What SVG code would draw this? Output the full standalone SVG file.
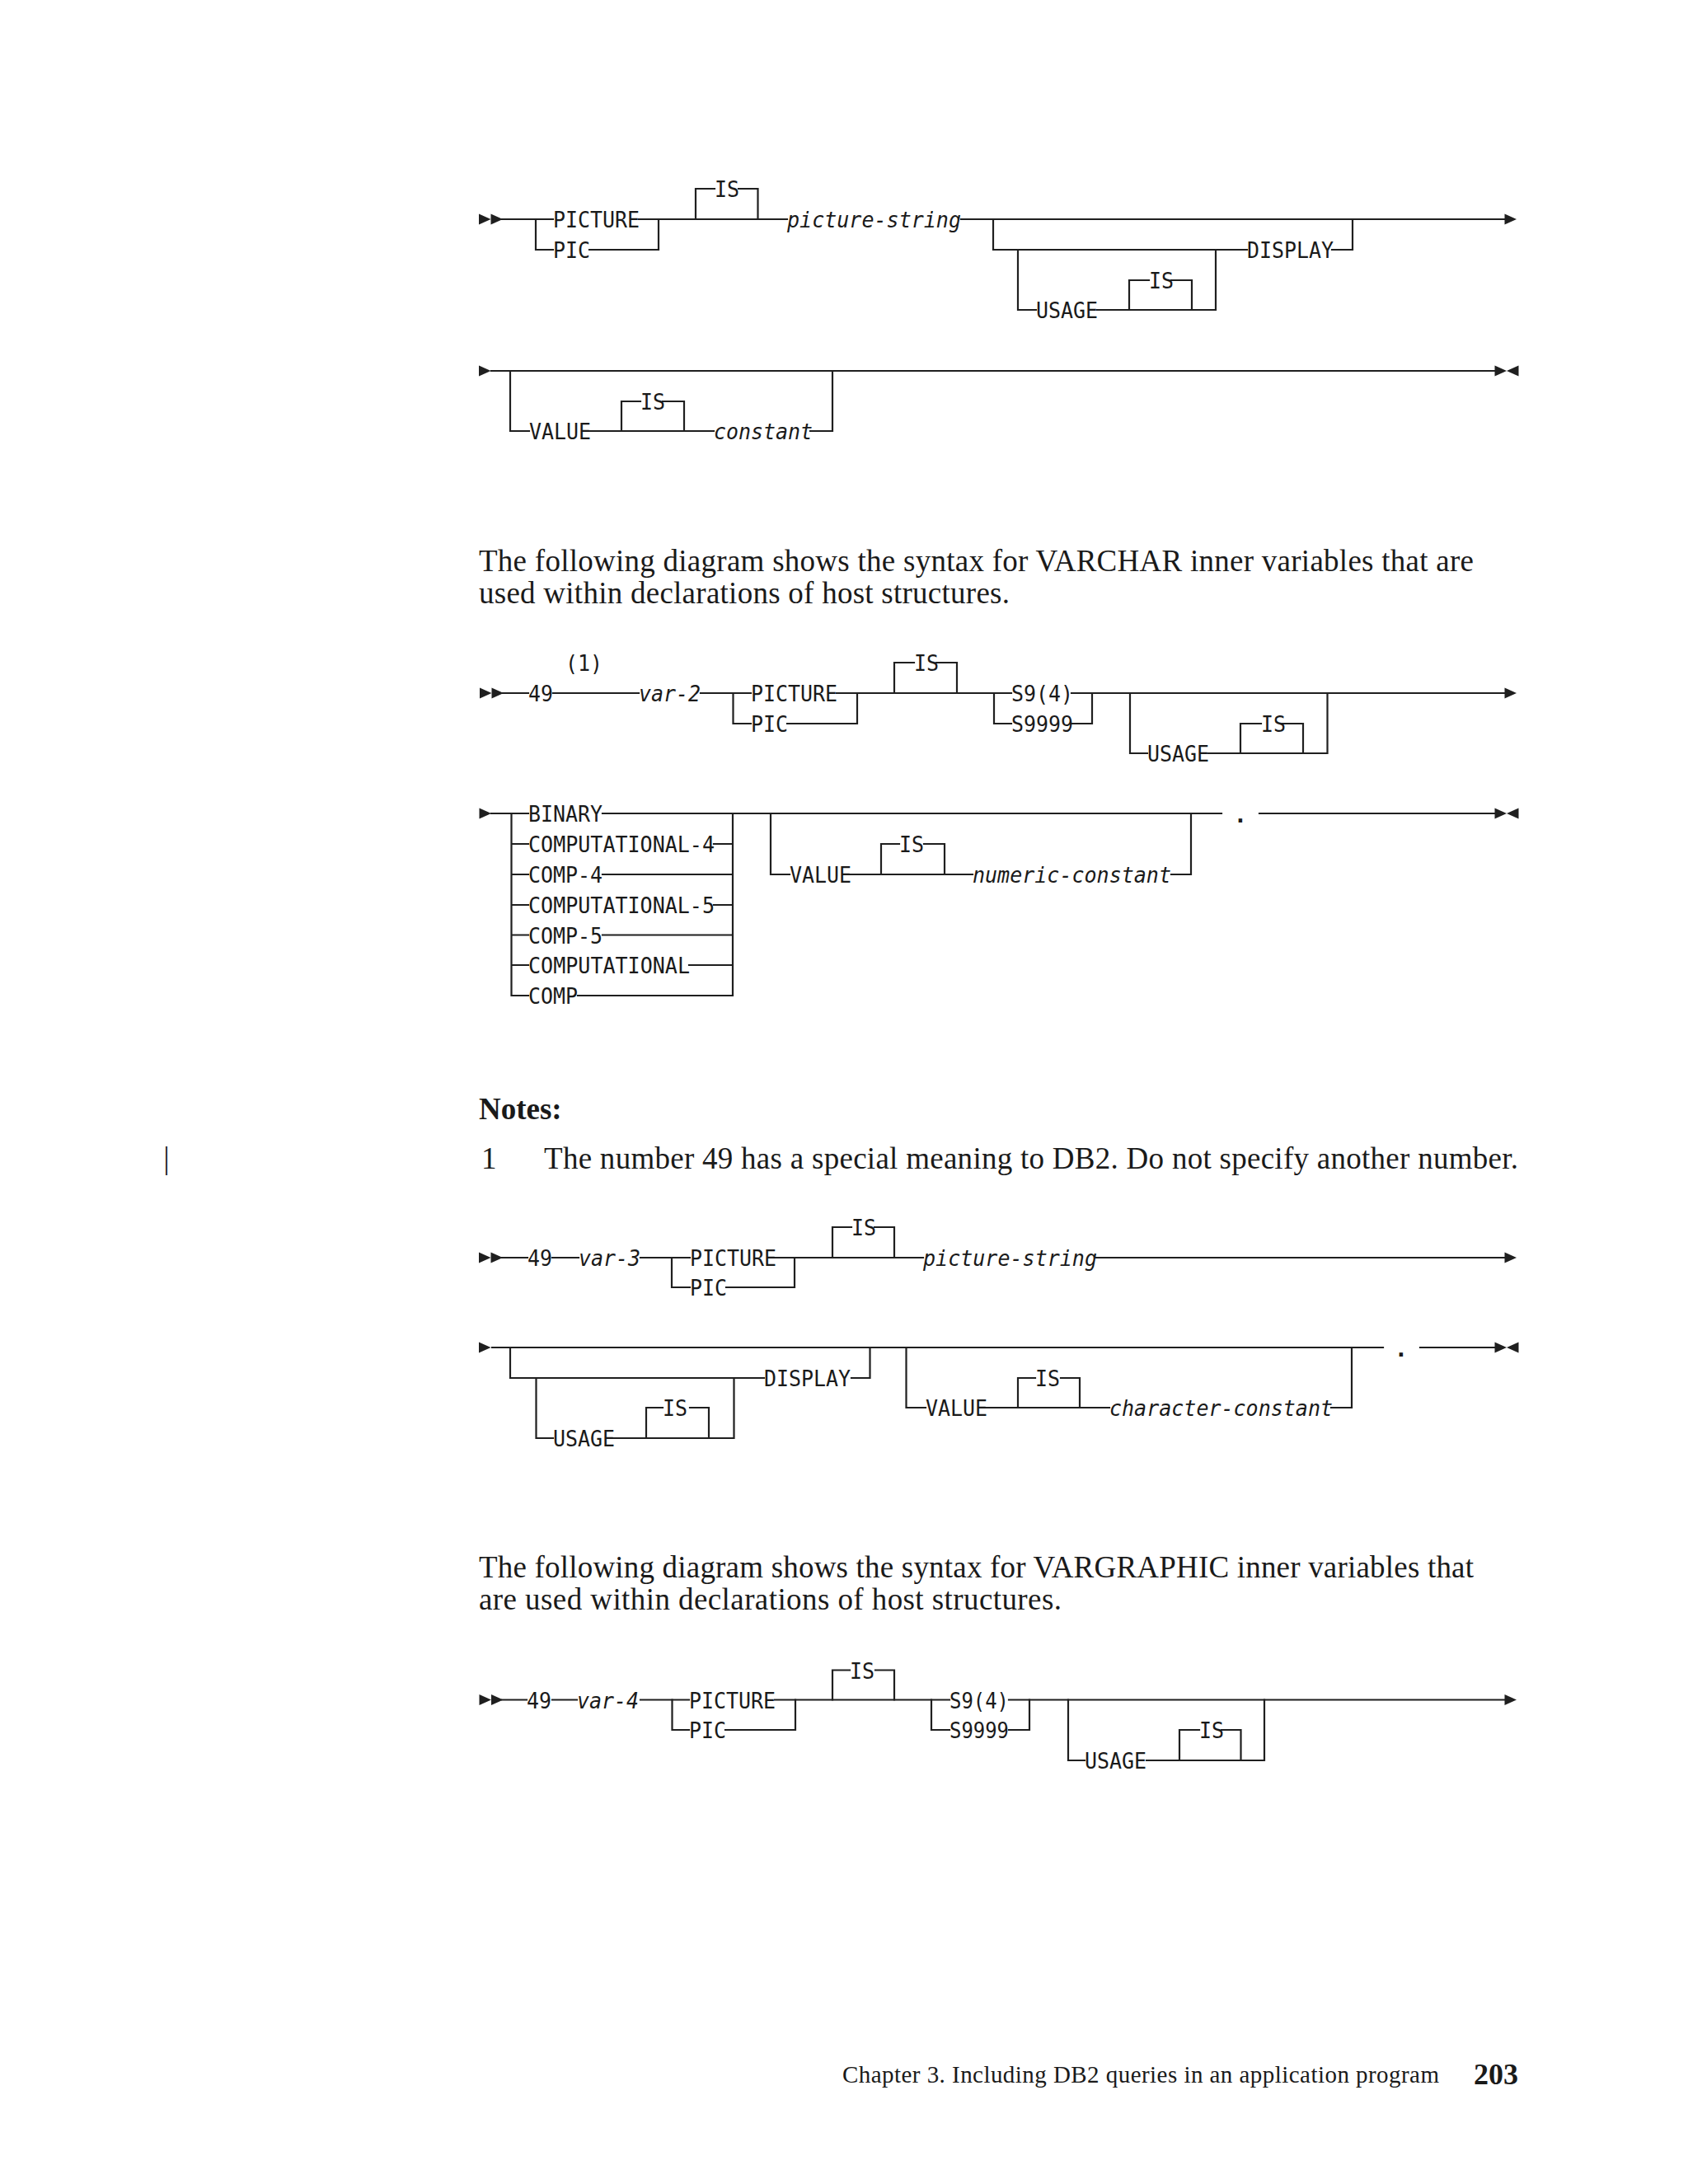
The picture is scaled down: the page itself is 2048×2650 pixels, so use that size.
<svg xmlns="http://www.w3.org/2000/svg" xmlns:xlink="http://www.w3.org/1999/xlink" width="2048" height="2650" viewBox="0 0 2048 2650">
<defs>
<style>
.ln{fill:none;stroke:#1f1f1f;stroke-width:2.2;stroke-linecap:square}
.t{font-family:"DejaVu Sans Mono","Liberation Mono",monospace;font-size:27px;fill:#1a1a1a}
.i{font-style:italic}
.p{font-family:"Liberation Serif","Times New Roman",serif;font-size:37px;fill:#1a1a1a}
.b{font-weight:bold}
.ar{fill:#1f1f1f}
</style>
<path id="tri" d="M0,-6.5 L14.5,0 L0,6.5 Z"/>
<path id="tril" d="M0,0 L14.5,-6.5 L14.5,6.5 Z"/>
</defs>
<rect width="2048" height="2650" fill="#ffffff"/>

<!-- ===== Diagram 1 ===== -->
<g id="d1">
<g id="d1-connectors" class="ln">
<path d="M609,266 H671 M775,266 H955 M1166,266 H1826"/>
<path d="M650,266 V303 H671 M715,303 H799 V266"/>
<path d="M844,266 V229 H867 M896,229 H919.5 V266"/>
<path d="M1205,266 V303 H1513 M1616,303 H1641 V266"/>
<path d="M1235,303 V376 H1257 M1331,376 H1475 V303"/>
<path d="M1370,376 V340 H1394 M1421,340 H1446 V376"/>
<path d="M596,450 H1814"/>
<path d="M619,450 V523 H642 M715,523 H866 M983,523 H1010 V450"/>
<path d="M754,523 V487 H777 M804,487 H830 V523"/>
</g>
<g id="d1-arrows" class="ar">
<use xlink:href="#tri" x="581" y="266"/><use xlink:href="#tri" x="595.5" y="266"/>
<use xlink:href="#tri" x="1825.5" y="266"/>
<use xlink:href="#tri" x="581" y="450"/>
<use xlink:href="#tri" x="1813.5" y="450"/><use xlink:href="#tril" x="1828" y="450"/>
</g>
<g id="d1-picture" class="t"><text x="671" y="276" textLength="105" lengthAdjust="spacingAndGlyphs">PICTURE</text></g>
<g id="d1-pic" class="t"><text x="671" y="313" textLength="45" lengthAdjust="spacingAndGlyphs">PIC</text></g>
<g id="d1-is1" class="t"><text x="867" y="239" textLength="30" lengthAdjust="spacingAndGlyphs">IS</text></g>
<g id="d1-picstring" class="t i"><text x="955" y="276" textLength="211" lengthAdjust="spacingAndGlyphs">picture-string</text></g>
<g id="d1-display" class="t"><text x="1513" y="313" textLength="105" lengthAdjust="spacingAndGlyphs">DISPLAY</text></g>
<g id="d1-usage" class="t"><text x="1257" y="386" textLength="75" lengthAdjust="spacingAndGlyphs">USAGE</text></g>
<g id="d1-is2" class="t"><text x="1394" y="350" textLength="30" lengthAdjust="spacingAndGlyphs">IS</text></g>
<g id="d1-value" class="t"><text x="642" y="533" textLength="75" lengthAdjust="spacingAndGlyphs">VALUE</text></g>
<g id="d1-is3" class="t"><text x="777" y="497" textLength="30" lengthAdjust="spacingAndGlyphs">IS</text></g>
<g id="d1-constant" class="t i"><text x="866" y="533" textLength="120" lengthAdjust="spacingAndGlyphs">constant</text></g>
</g>

<g id="para1" class="p">
<text x="581" y="693" textLength="1207" lengthAdjust="spacing">The following diagram shows the syntax for VARCHAR inner variables that are</text>
<text x="581" y="732" textLength="644" lengthAdjust="spacing">used within declarations of host structures.</text>
</g>

<!-- ===== Diagram 2 ===== -->
<g id="d2">
<g id="d2-connectors" class="ln">
<path d="M610,841 H641 M671,841 H775 M850,841 H911 M1015,841 H1227 M1300,841 H1826"/>
<path d="M889.5,841 V878 H911 M955,878 H1040 V841"/>
<path d="M1085,841 V804 H1109 M1136,804 H1161 V841"/>
<path d="M1206,841 V878 H1227 M1300,878 H1325 V841"/>
<path d="M1371,841 V914 H1392 M1465.5,914 H1610.5 V841"/>
<path d="M1505,914 V878 H1530 M1556,878 H1581 V914"/>
<path d="M596,987 H641 M731,987 H1482 M1528,987 H1814"/>
<path d="M620.5,987 V1208 H641 M620.5,1024 H641 M620.5,1061 H641 M620.5,1098 H641 M620.5,1134.5 H641 M620.5,1171 H641"/>
<path d="M866,1024 H889 M731,1061 H889 M866,1098 H889 M731,1134.5 H889 M836,1171 H889 M701,1208 H889 V987"/>
<path d="M935,987 V1061 H958 M1029,1061 H1180 M1421,1061 H1445 V987"/>
<path d="M1069,1061 V1024 H1091 M1121,1024 H1146 V1061"/>
</g>
<g id="d2-arrows" class="ar">
<use xlink:href="#tri" x="582" y="841"/><use xlink:href="#tri" x="596.5" y="841"/>
<use xlink:href="#tri" x="1825.5" y="841"/>
<use xlink:href="#tri" x="581.5" y="987"/>
<use xlink:href="#tri" x="1813.5" y="987"/><use xlink:href="#tril" x="1828" y="987"/>
</g>
<g id="d2-49" class="t"><text x="641" y="851" textLength="30" lengthAdjust="spacingAndGlyphs">49</text></g>
<g id="d2-note1" class="t"><text x="686" y="814" textLength="45" lengthAdjust="spacingAndGlyphs">(1)</text></g>
<g id="d2-var2" class="t i"><text x="775" y="851" textLength="75" lengthAdjust="spacingAndGlyphs">var-2</text></g>
<g id="d2-picture" class="t"><text x="911" y="851" textLength="105" lengthAdjust="spacingAndGlyphs">PICTURE</text></g>
<g id="d2-pic" class="t"><text x="911" y="888" textLength="45" lengthAdjust="spacingAndGlyphs">PIC</text></g>
<g id="d2-is1" class="t"><text x="1109" y="814" textLength="30" lengthAdjust="spacingAndGlyphs">IS</text></g>
<g id="d2-s94" class="t"><text x="1227" y="851" textLength="75" lengthAdjust="spacingAndGlyphs">S9(4)</text></g>
<g id="d2-s9999" class="t"><text x="1227" y="888" textLength="75" lengthAdjust="spacingAndGlyphs">S9999</text></g>
<g id="d2-usage" class="t"><text x="1392" y="924" textLength="75" lengthAdjust="spacingAndGlyphs">USAGE</text></g>
<g id="d2-is2" class="t"><text x="1530" y="888" textLength="30" lengthAdjust="spacingAndGlyphs">IS</text></g>
<g id="d2-binary" class="t"><text x="641" y="997" textLength="90" lengthAdjust="spacingAndGlyphs">BINARY</text></g>
<g id="d2-comp4l" class="t"><text x="641" y="1034" textLength="226" lengthAdjust="spacingAndGlyphs">COMPUTATIONAL-4</text></g>
<g id="d2-comp4" class="t"><text x="641" y="1071" textLength="90" lengthAdjust="spacingAndGlyphs">COMP-4</text></g>
<g id="d2-comp5l" class="t"><text x="641" y="1108" textLength="226" lengthAdjust="spacingAndGlyphs">COMPUTATIONAL-5</text></g>
<g id="d2-comp5" class="t"><text x="641" y="1144.5" textLength="90" lengthAdjust="spacingAndGlyphs">COMP-5</text></g>
<g id="d2-compl" class="t"><text x="641" y="1181" textLength="196" lengthAdjust="spacingAndGlyphs">COMPUTATIONAL</text></g>
<g id="d2-comp" class="t"><text x="641" y="1218" textLength="60" lengthAdjust="spacingAndGlyphs">COMP</text></g>
<g id="d2-value" class="t"><text x="958" y="1071" textLength="75" lengthAdjust="spacingAndGlyphs">VALUE</text></g>
<g id="d2-is3" class="t"><text x="1091" y="1034" textLength="30" lengthAdjust="spacingAndGlyphs">IS</text></g>
<g id="d2-numconst" class="t i"><text x="1180" y="1071" textLength="241" lengthAdjust="spacingAndGlyphs">numeric-constant</text></g>
<g id="d2-period" class="t b"><text x="1505" y="998" text-anchor="middle">.</text></g>
</g>

<g id="notes">
<text class="p b" x="581" y="1358">Notes:</text>
<text class="p" x="202" y="1418" text-anchor="middle">|</text>
<text class="p" x="584" y="1418">1</text>
<text class="p" x="660" y="1418" textLength="1182" lengthAdjust="spacing">The number 49 has a special meaning to DB2. Do not specify another number.</text>
</g>

<!-- ===== Diagram 3 ===== -->
<g id="d3">
<g id="d3-connectors" class="ln">
<path d="M609,1526 H640 M670,1526 H702 M777,1526 H837 M940,1526 H1120 M1330,1526 H1826"/>
<path d="M815,1526 V1562 H837 M881,1562 H964 V1526"/>
<path d="M1010,1526 V1489 H1033 M1061,1489 H1085 V1526"/>
<path d="M597,1635 H1678 M1723,1635 H1814"/>
<path d="M619,1635 V1672 H927 M1033,1672 H1055.5 V1635"/>
<path d="M650.5,1672 V1745 H671 M744,1745 H890.5 V1672"/>
<path d="M784,1745 V1708 H804 M837,1708 H860 V1745"/>
<path d="M1099.5,1635 V1708 H1123 M1194,1708 H1346 M1615,1708 H1640 V1635"/>
<path d="M1235,1708 V1672 H1256 M1287,1672 H1310 V1708"/>
</g>
<g id="d3-arrows" class="ar">
<use xlink:href="#tri" x="581" y="1526"/><use xlink:href="#tri" x="595.5" y="1526"/>
<use xlink:href="#tri" x="1825.5" y="1526"/>
<use xlink:href="#tri" x="581" y="1635"/>
<use xlink:href="#tri" x="1813.5" y="1635"/><use xlink:href="#tril" x="1828" y="1635"/>
</g>
<g id="d3-49" class="t"><text x="640" y="1536" textLength="30" lengthAdjust="spacingAndGlyphs">49</text></g>
<g id="d3-var3" class="t i"><text x="702" y="1536" textLength="75" lengthAdjust="spacingAndGlyphs">var-3</text></g>
<g id="d3-picture" class="t"><text x="837" y="1536" textLength="105" lengthAdjust="spacingAndGlyphs">PICTURE</text></g>
<g id="d3-pic" class="t"><text x="837" y="1572" textLength="45" lengthAdjust="spacingAndGlyphs">PIC</text></g>
<g id="d3-is1" class="t"><text x="1033" y="1499" textLength="30" lengthAdjust="spacingAndGlyphs">IS</text></g>
<g id="d3-picstring" class="t i"><text x="1120" y="1536" textLength="211" lengthAdjust="spacingAndGlyphs">picture-string</text></g>
<g id="d3-display" class="t"><text x="927" y="1682" textLength="105" lengthAdjust="spacingAndGlyphs">DISPLAY</text></g>
<g id="d3-usage" class="t"><text x="671" y="1755" textLength="75" lengthAdjust="spacingAndGlyphs">USAGE</text></g>
<g id="d3-is2" class="t"><text x="804" y="1718" textLength="30" lengthAdjust="spacingAndGlyphs">IS</text></g>
<g id="d3-value" class="t"><text x="1123" y="1718" textLength="75" lengthAdjust="spacingAndGlyphs">VALUE</text></g>
<g id="d3-is3" class="t"><text x="1256" y="1682" textLength="30" lengthAdjust="spacingAndGlyphs">IS</text></g>
<g id="d3-charconst" class="t i"><text x="1346" y="1718" textLength="271" lengthAdjust="spacingAndGlyphs">character-constant</text></g>
<g id="d3-period" class="t b"><text x="1700" y="1646" text-anchor="middle">.</text></g>
</g>

<g id="para2" class="p">
<text x="581" y="1914" textLength="1207" lengthAdjust="spacing">The following diagram shows the syntax for VARGRAPHIC inner variables that</text>
<text x="581" y="1953" textLength="707" lengthAdjust="spacing">are used within declarations of host structures.</text>
</g>

<!-- ===== Diagram 4 ===== -->
<g id="d4">
<g id="d4-connectors" class="ln">
<path d="M609,2062.5 H639 M670,2062.5 H700 M777,2062.5 H836 M940,2062.5 H1152 M1224,2062.5 H1826"/>
<path d="M815.5,2062.5 V2099 H836 M880,2099 H965 V2062.5"/>
<path d="M1010,2062.5 V2026.5 H1031 M1062,2026.5 H1085 V2062.5"/>
<path d="M1130,2062.5 V2099 H1152 M1224,2099 H1249 V2062.5"/>
<path d="M1296,2062.5 V2136 H1316 M1391,2136 H1534 V2062.5"/>
<path d="M1431,2136 V2099 H1455 M1482,2099 H1505.5 V2136"/>
</g>
<g id="d4-arrows" class="ar">
<use xlink:href="#tri" x="581.5" y="2062.5"/><use xlink:href="#tri" x="596" y="2062.5"/>
<use xlink:href="#tri" x="1825.5" y="2062.5"/>
</g>
<g id="d4-49" class="t"><text x="639" y="2072.5" textLength="30" lengthAdjust="spacingAndGlyphs">49</text></g>
<g id="d4-var4" class="t i"><text x="700" y="2072.5" textLength="75" lengthAdjust="spacingAndGlyphs">var-4</text></g>
<g id="d4-picture" class="t"><text x="836" y="2072.5" textLength="105" lengthAdjust="spacingAndGlyphs">PICTURE</text></g>
<g id="d4-pic" class="t"><text x="836" y="2109" textLength="45" lengthAdjust="spacingAndGlyphs">PIC</text></g>
<g id="d4-is1" class="t"><text x="1031" y="2036.5" textLength="30" lengthAdjust="spacingAndGlyphs">IS</text></g>
<g id="d4-s94" class="t"><text x="1152" y="2072.5" textLength="72" lengthAdjust="spacingAndGlyphs">S9(4)</text></g>
<g id="d4-s9999" class="t"><text x="1152" y="2109" textLength="72" lengthAdjust="spacingAndGlyphs">S9999</text></g>
<g id="d4-usage" class="t"><text x="1316" y="2146" textLength="75" lengthAdjust="spacingAndGlyphs">USAGE</text></g>
<g id="d4-is2" class="t"><text x="1455" y="2109" textLength="30" lengthAdjust="spacingAndGlyphs">IS</text></g>
</g>

<g id="footer">
<text class="p" x="1022" y="2527" style="font-size:29px" textLength="724" lengthAdjust="spacing">Chapter 3. Including DB2 queries in an application program</text>
<text class="p b" x="1788" y="2529" style="font-size:36px">203</text>
</g>
</svg>
